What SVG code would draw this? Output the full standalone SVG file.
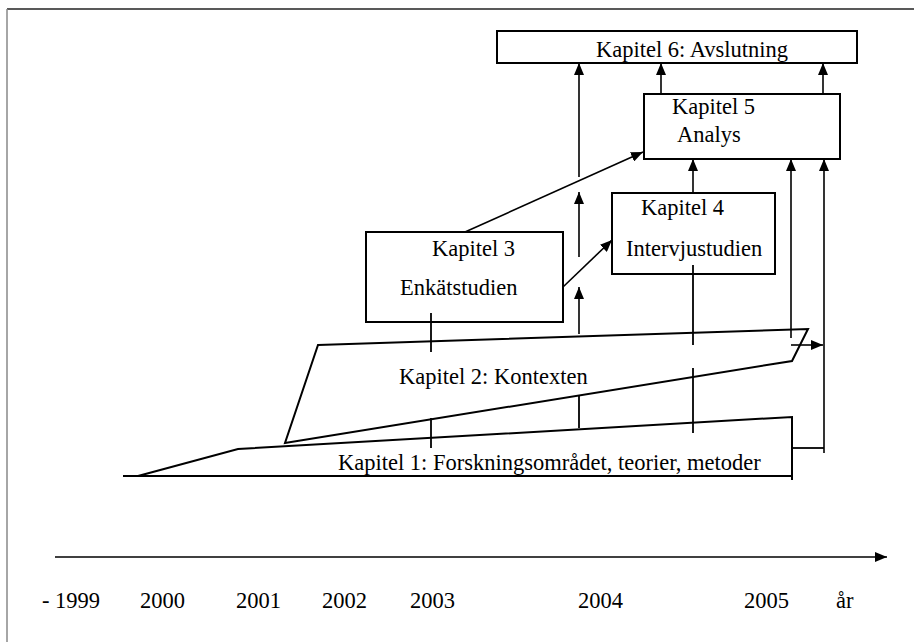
<svg xmlns="http://www.w3.org/2000/svg" width="914" height="642" viewBox="0 0 914 642">
<defs>
<marker id="ah" markerUnits="userSpaceOnUse" markerWidth="13" markerHeight="10" refX="12" refY="5" orient="auto">
<path d="M0,0 L12,5 L0,10 z" fill="#000"/>
</marker>
<style>
text{font-family:"Liberation Serif","Times New Roman",serif;font-size:22.5px;fill:#000}
.box{fill:#fff;stroke:#000;stroke-width:2}
.shape{fill:none;stroke:#000;stroke-width:2;stroke-linejoin:miter}
.ln{fill:none;stroke:#000;stroke-width:1.8}
.ar{fill:none;stroke:#000;stroke-width:1.6;marker-end:url(#ah)}
</style>
</defs>
<rect width="914" height="642" fill="#fff"/>
<g id="frame">
<line x1="7" y1="9" x2="914" y2="9" stroke="#222" stroke-width="1.5"/>
<line x1="7" y1="9" x2="7" y2="642" stroke="#888" stroke-width="1.5"/>
</g>
<g id="kap1">
<polyline class="shape" points="123,476 792,476"/>
<polyline class="shape" points="138,476 238,449 792,417 792,480"/>
<text x="338" y="470">Kapitel 1: Forskningsområdet, teorier, metoder</text>
</g>
<g id="kap2">
<polygon class="shape" points="318,345 808,329 792,361 285,443"/>
<text x="399" y="384">Kapitel 2: Kontexten</text>
</g>
<g id="kap3">
<rect class="box" x="366" y="232" width="197" height="90"/>
<text x="432" y="256">Kapitel 3</text>
<text x="400" y="295">Enkätstudien</text>
</g>
<g id="kap4">
<rect class="box" x="612" y="193" width="163" height="81"/>
<text x="641" y="215">Kapitel 4</text>
<text x="626" y="256">Intervjustudien</text>
</g>
<g id="kap5">
<rect class="box" x="644" y="94" width="196" height="65"/>
<text x="672" y="114">Kapitel 5</text>
<text x="677" y="142">Analys</text>
</g>
<g id="kap6">
<rect class="box" x="497" y="31" width="360" height="32" stroke-width="1.6"/>
<text x="596" y="57">Kapitel 6: Avslutning</text>
</g>
<g id="connectors">
<line class="ar" x1="579" y1="177" x2="579" y2="63"/>
<line class="ar" x1="579" y1="257" x2="579" y2="192"/>
<line class="ar" x1="579" y1="334" x2="579" y2="287"/>
<line class="ar" x1="661" y1="94" x2="661" y2="63"/>
<line class="ar" x1="823" y1="94" x2="823" y2="63"/>
<line class="ar" x1="693" y1="193" x2="693" y2="159"/>
<line class="ar" x1="465" y1="232" x2="643" y2="152"/>
<line class="ar" x1="563" y1="287" x2="612" y2="240"/>
<line class="ar" x1="791" y1="338" x2="791" y2="159"/>
<line class="ar" x1="824" y1="453" x2="824" y2="159"/>
<line class="ar" x1="791" y1="345" x2="823" y2="345"/>
<line class="ln" x1="792" y1="448" x2="824" y2="448"/>
<line class="ln" x1="431" y1="313" x2="431" y2="352"/>
<line class="ln" x1="431" y1="418" x2="431" y2="448"/>
<line class="ln" x1="579" y1="395" x2="579" y2="428"/>
<line class="ln" x1="693" y1="265" x2="693" y2="345"/>
<line class="ln" x1="693" y1="368" x2="693" y2="433"/>
</g>
<g id="axis">
<line class="ar" x1="55" y1="557" x2="887" y2="557" stroke-width="2"/>
<text x="42" y="608">- 1999</text>
<text x="140" y="608">2000</text>
<text x="236" y="608">2001</text>
<text x="322" y="608">2002</text>
<text x="410" y="608">2003</text>
<text x="578" y="608">2004</text>
<text x="744" y="608">2005</text>
<text x="836" y="608">år</text>
</g>
</svg>
